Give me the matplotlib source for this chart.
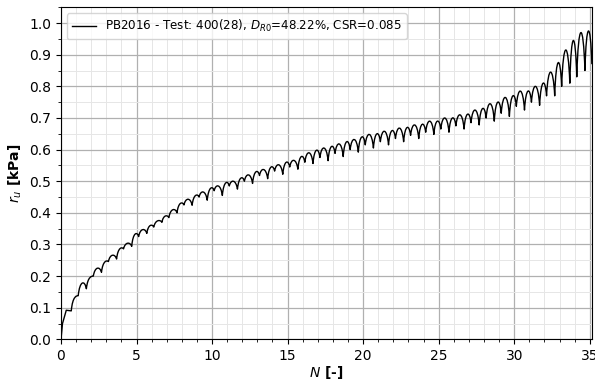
import numpy as np
import matplotlib
matplotlib.use("Agg")
import matplotlib.pyplot as plt
from matplotlib.path import Path
from matplotlib.patches import PathPatch
from matplotlib.lines import Line2D
from matplotlib.ticker import MultipleLocator

# start of the test (before the first full cycle)
start_N = [0.0, 0.1, 0.35]
start_ru = [0.0, 0.05, 0.092]

# one entry per loading cycle k: deep trough, first peak, mid dip, second peak
cycle = list(range(35))
trough_ru = [0.090, 0.160, 0.212, 0.254, 0.294, 0.335, 0.370, 0.400, 0.424, 0.440,
             0.455, 0.475, 0.493, 0.508, 0.522, 0.538, 0.556, 0.565, 0.578, 0.592,
             0.605, 0.615, 0.625, 0.635, 0.648, 0.655, 0.665, 0.678, 0.690, 0.705,
             0.725, 0.740, 0.770, 0.810, 0.850]
peak_a_ru = [0.132, 0.195, 0.245, 0.287, 0.333, 0.360, 0.390, 0.430, 0.455, 0.478,
             0.495, 0.510, 0.530, 0.545, 0.560, 0.578, 0.598, 0.610, 0.625, 0.640,
             0.650, 0.660, 0.670, 0.680, 0.690, 0.700, 0.712, 0.730, 0.750, 0.770,
             0.785, 0.810, 0.875, 0.945, 0.975]
mid_ru = [0.138, 0.200, 0.246, 0.286, 0.325, 0.355, 0.385, 0.425, 0.450, 0.470,
          0.485, 0.500, 0.518, 0.532, 0.545, 0.560, 0.575, 0.588, 0.600, 0.615,
          0.625, 0.635, 0.645, 0.655, 0.665, 0.675, 0.685, 0.700, 0.715, 0.737,
          0.750, 0.770, 0.800, 0.830, 0.870]
peak_b_ru = [0.178, 0.225, 0.266, 0.304, 0.347, 0.375, 0.410, 0.443, 0.466, 0.485,
             0.500, 0.520, 0.537, 0.552, 0.566, 0.590, 0.605, 0.618, 0.632, 0.648,
             0.658, 0.668, 0.678, 0.690, 0.700, 0.710, 0.725, 0.745, 0.765, 0.785,
             0.800, 0.845, 0.915, 0.970, np.nan]

# dips sit at these points of each cycle; the record stops at N = 35.15
trough_phase = 0.68
mid_phase = 1.14
N_end = 35.15

# chain of dips with the peak reached between each pair
dips = []
peaks = []
for k in cycle:
    dips.append((k + trough_phase, trough_ru[k]))
    peaks.append(peak_a_ru[k])
    dips.append((min(k + mid_phase, N_end), mid_ru[k]))
    if not np.isnan(peak_b_ru[k]):
        peaks.append(peak_b_ru[k])

verts = list(zip(start_N, start_ru)) + [dips[0]]
codes = [Path.MOVETO] + [Path.LINETO] * len(start_N)
for (x0, y0), (x1, y1), p in zip(dips[:-1], dips[1:], peaks):
    # cubic arch whose top reaches the peak value half way between the dips
    w = x1 - x0
    c = (8 * p - y0 - y1) / 6
    verts += [(x0 + 0.2 * w, c), (x1 - 0.2 * w, c), (x1, y1)]
    codes += [Path.CURVE4] * 3

fig = plt.figure(figsize=(5.95, 3.83), dpi=100)
ax = fig.add_axes([0.1025, 0.114, 0.8925, 0.867])

ax.add_patch(PathPatch(Path(verts, codes), facecolor="none", edgecolor="black",
                       lw=1.0, joinstyle="round", zorder=3))

ax.set_xlim(0, N_end)
ax.set_ylim(0, 1.05)
ax.xaxis.set_major_locator(MultipleLocator(5))
ax.xaxis.set_minor_locator(MultipleLocator(1))
ax.yaxis.set_major_locator(MultipleLocator(0.1))
ax.yaxis.set_minor_locator(MultipleLocator(0.05))
ax.grid(which="major", color="#b0b0b0", lw=0.9)
ax.grid(which="minor", color="#e6e6e6", lw=0.7)
ax.set_axisbelow(True)
ax.tick_params(labelsize=10)

ax.set_xlabel(r"$N$ [-]", fontsize=10, fontweight="bold", labelpad=1)
ax.set_ylabel(r"$r_u$ [kPa]", fontsize=10, fontweight="bold")
handle = Line2D([], [], color="black", lw=1.0)
ax.legend([handle], [r"PB2016 - Test: 400(28), $D_{R0}$=48.22%, CSR=0.085"],
          loc="upper left", fontsize=8.6)

fig.savefig("out.png", dpi=100)
